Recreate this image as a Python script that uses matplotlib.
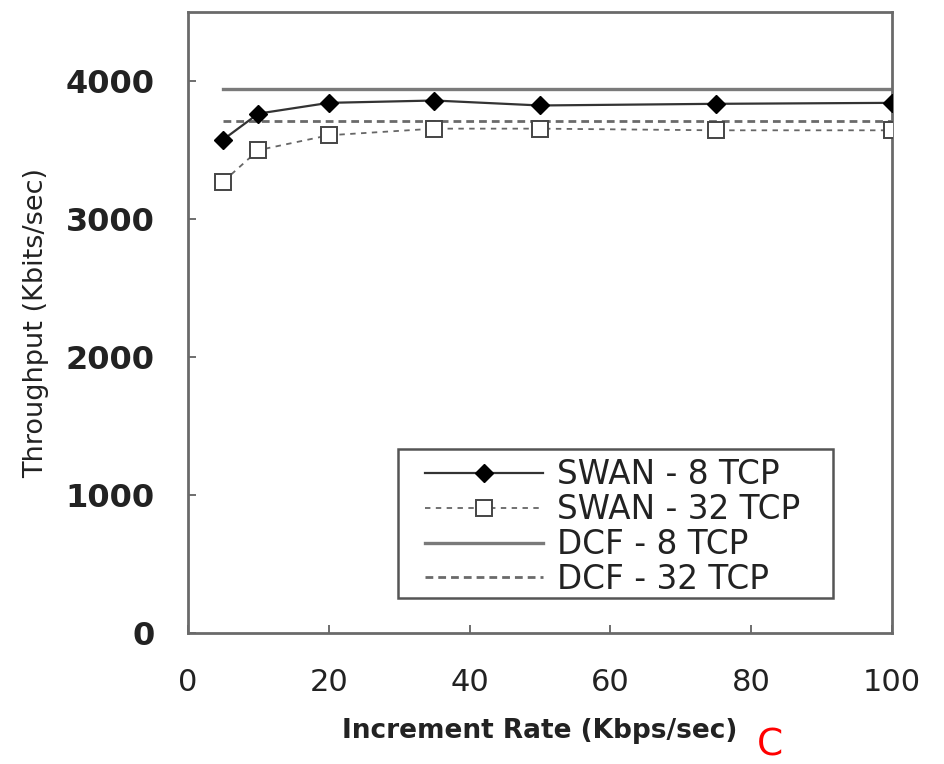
import matplotlib
matplotlib.use("Agg")
import matplotlib.pyplot as plt
from matplotlib.patches import Rectangle

rate = [5, 10, 20, 35, 50, 75, 100]
swan8 = [3576, 3765, 3843, 3860, 3824, 3836, 3843]
swan32 = [3271, 3500, 3608, 3656, 3656, 3644, 3644]
dcf_x = [5, 100]
dcf8 = [3945, 3945]
dcf32 = [3715, 3715]

plt.rcParams['font.family'] = ['DejaVu Sans']

fig = plt.figure(figsize=(9.44, 7.64), dpi=100)
ax = fig.add_axes([0.199, 0.1715, 0.746, 0.8125])

ax.plot(dcf_x, dcf8, color='#7a7a7a', lw=2.4, label='DCF - 8 TCP', zorder=2)
ax.plot(dcf_x, dcf32, color='#6a6a6a', lw=2.0, ls=(0, (2.8, 1.8)), label='DCF - 32 TCP', zorder=2)
ax.plot(rate, swan32, color='#666666', lw=1.3, ls=(0, (3, 3)), marker='s', ms=12,
        mfc='white', mec='#444444', mew=1.4, label='SWAN - 32 TCP', zorder=3)
ax.plot(rate, swan8, color='#333333', lw=1.6, marker='D', ms=9.5, mfc='black',
        mec='black', label='SWAN - 8 TCP', zorder=4)

ax.set_xlim(0, 100)
ax.set_ylim(0, 4500)
ax.set_xticks([0, 20, 40, 60, 80, 100])
ax.set_yticks([0, 1000, 2000, 3000, 4000])
ax.tick_params(direction='in', length=6, width=1.2, color='#555555')
ax.tick_params(axis='x', labelsize=22, pad=25, labelcolor='#222222')
ax.tick_params(axis='y', labelsize=23, pad=24, labelcolor='#222222')
for lbl in ax.get_yticklabels():
    lbl.set_fontweight('bold')
for s in ax.spines.values():
    s.set_color('#6a6a6a')
    s.set_linewidth(2.0)

ax.set_xlabel('Increment Rate (Kbps/sec)', fontsize=19, fontweight='bold',
              color='#222222', labelpad=15)
ax.set_ylabel('Throughput (Kbits/sec)', fontsize=19.5, color='#222222', labelpad=12)

handles, labels = ax.get_legend_handles_labels()
order = [3, 2, 0, 1]
leg = ax.legend([handles[i] for i in order], [labels[i] for i in order],
                loc='upper left', bbox_to_anchor=(0.3366, 0.2818),
                fontsize=23.5, frameon=False, borderpad=0, borderaxespad=0,
                handlelength=3.62, handletextpad=0.43, labelspacing=0.06)
for t in leg.get_texts():
    t.set_color('#222222')
ax.add_patch(Rectangle((0.2983, 0.0564), 0.618, 0.240, transform=ax.transAxes,
                       fill=False, edgecolor='#555555', lw=1.8, zorder=5))

fig.text(0.816, 0.0, 'C', color='red', fontsize=27, ha='center', va='bottom')

fig.savefig('out.png', dpi=100)
